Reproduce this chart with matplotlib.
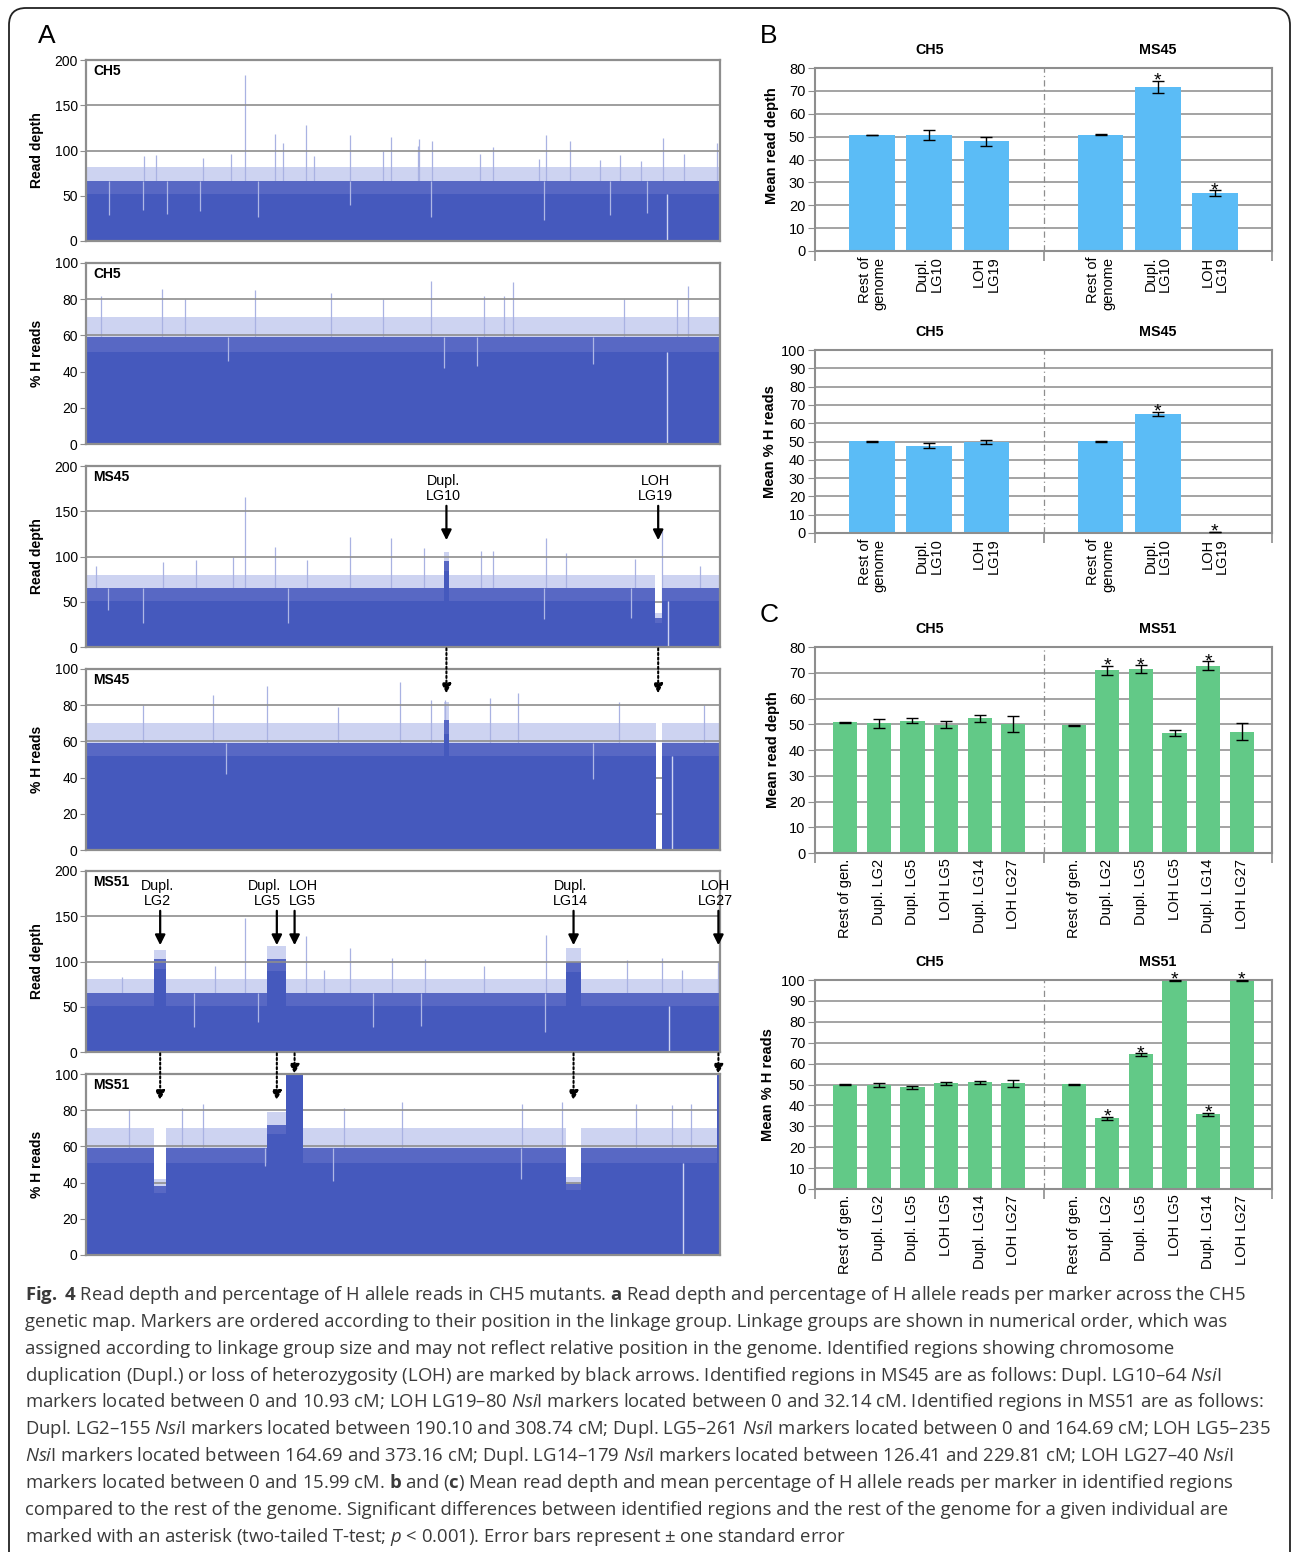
import numpy as np
import matplotlib
matplotlib.use("Agg")
import matplotlib.pyplot as plt
from matplotlib.patches import FancyBboxPatch, ConnectionPatch

# =====================================================================
# DATA - panel A (x = position along the genetic map, fraction 0..1)
# each profile: stretch edges, solid body level (core), dense band (mid),
# upper envelope (top); plus single tall / low markers
# =====================================================================
ch5_depth_edges = [0.0, 1.0]
ch5_depth_core = [52]
ch5_depth_mid = [66]
ch5_depth_top = [82]
ch5_depth_spike_x = [0.251, 0.298, 0.311, 0.347, 0.416, 0.481, 0.525, 0.546, 0.642, 0.726, 0.763, 0.910, 0.995,
                     0.092, 0.111, 0.184, 0.229, 0.360, 0.468, 0.523, 0.621, 0.714, 0.810, 0.843, 0.876, 0.944]
ch5_depth_spike_y = [183, 118, 108, 128, 117, 115, 113, 110, 104, 117, 111, 114, 108,
                     93.6, 95.4, 91.7, 96.5, 93.6, 99, 104.6, 96.5, 91, 90, 95.4, 88, 96]
ch5_depth_dip_x = [0.036, 0.090, 0.127, 0.180, 0.272, 0.416, 0.544, 0.723, 0.826, 0.885]
ch5_depth_dip_y = [29, 34, 30, 33, 27, 40, 26, 23, 29, 31]
ch5_depth_gap_x = [0.917]
ch5_depth_gap_y = [52]

ch5_h_edges = [0.0, 1.0]
ch5_h_core = [51]
ch5_h_mid = [59]
ch5_h_top = [70]
ch5_h_spike_x = [0.544, 0.674, 0.950, 0.120, 0.267, 0.386, 0.024, 0.628, 0.659, 0.932, 0.469, 0.848, 0.156]
ch5_h_spike_y = [89.9, 89.4, 87.5, 85.7, 85.2, 83.3, 81.7, 81.7, 81.7, 79.9, 79.9, 79.9, 79.9]
ch5_h_dip_x = [0.224, 0.565, 0.616, 0.800]
ch5_h_dip_y = [45.8, 41.8, 43, 44]
ch5_h_gap_x = [0.917]
ch5_h_gap_y = [51]

ms45_depth_edges = [0.0, 0.564, 0.573, 0.897, 0.908, 1.0]
ms45_depth_core = [51, 84, 51, 27, 51]
ms45_depth_mid = [65, 95, 65, 32, 65]
ms45_depth_top = [80, 105, 80, 38, 80]
ms45_depth_spike_x = [0.251, 0.298, 0.417, 0.481, 0.533, 0.642, 0.726, 0.908, 0.757,
                      0.016, 0.121, 0.173, 0.232, 0.348, 0.623, 0.866, 0.969]
ms45_depth_spike_y = [166, 110, 121, 120, 109, 106, 120, 128, 104,
                      89, 94, 96, 99, 96, 106, 97.6, 90]
ms45_depth_dip_x = [0.035, 0.090, 0.318, 0.723, 0.859]
ms45_depth_dip_y = [41, 27, 27, 31, 32.5]
ms45_depth_gap_x = [0.918]
ms45_depth_gap_y = [51]

ms45_h_edges = [0.0, 0.564, 0.573, 0.899, 0.908, 1.0]
ms45_h_core = [52, 64, 52, 0, 52]
ms45_h_mid = [59, 72, 59, 0, 59]
ms45_h_top = [70, 82, 70, 0, 70]
ms45_h_spike_x = [0.286, 0.496, 0.201, 0.682, 0.638, 0.975, 0.090, 0.397, 0.840, 0.544, 0.567]
ms45_h_spike_y = [90.5, 93, 85.7, 87, 84, 80, 80, 79, 82, 83, 83]
ms45_h_dip_x = [0.221, 0.800]
ms45_h_dip_y = [42, 39.4]
ms45_h_gap_x = [0.925]
ms45_h_gap_y = [52]

ms51_depth_edges = [0.0, 0.108, 0.126, 0.286, 0.316, 0.757, 0.781, 1.0]
ms51_depth_core = [51, 92, 51, 90, 51, 88, 51]
ms51_depth_mid = [65, 103, 65, 103, 65, 100, 65]
ms51_depth_top = [81, 113, 81, 117, 81, 115, 81]
ms51_depth_spike_x = [0.251, 0.726, 0.347, 0.417, 0.909, 0.534, 0.997,
                      0.056, 0.203, 0.375, 0.482, 0.628, 0.854, 0.940]
ms51_depth_spike_y = [148, 129, 128, 115, 104, 103, 100,
                      83, 95, 91, 104, 94.5, 102, 91]
ms51_depth_dip_x = [0.170, 0.271, 0.453, 0.528, 0.724]
ms51_depth_dip_y = [27.6, 33, 28, 29, 21.7]
ms51_depth_gap_x = [0.919]
ms51_depth_gap_y = [51]

ms51_h_edges = [0.0, 0.108, 0.126, 0.286, 0.316, 0.342, 0.757, 0.781, 0.995, 1.0]
ms51_h_core = [51, 34, 51, 67, 100, 51, 36, 51, 100]
ms51_h_mid = [59, 38, 59, 72, 100, 59, 39, 59, 100]
ms51_h_top = [70, 42, 70, 79, 100, 70, 43, 70, 100]
ms51_h_spike_x = [0.184, 0.751, 0.687, 0.498, 0.955, 0.867, 0.152, 0.068, 0.407, 0.925]
ms51_h_spike_y = [83.7, 84.6, 83.7, 84.3, 83.2, 83.2, 81, 80.4, 81, 82.8]
ms51_h_dip_x = [0.282, 0.389, 0.686]
ms51_h_dip_y = [49, 41, 42]
ms51_h_gap_x = [0.942]
ms51_h_gap_y = [51]

# identified regions: label, start, end, text alignment
ms45_regions = [("Dupl.\nLG10", 0.564, 0.573, "center"),
                ("LOH\nLG19", 0.897, 0.908, "center")]
ms51_regions = [("Dupl.\nLG2", 0.108, 0.126, "center"),
                ("Dupl.\nLG5", 0.286, 0.316, "right"),
                ("LOH\nLG5", 0.316, 0.342, "left"),
                ("Dupl.\nLG14", 0.757, 0.781, "center"),
                ("LOH\nLG27", 0.995, 1.0, "center")]
ms51_h_region_at_top = [False, False, True, False, True]

# =====================================================================
# DATA - panels B and C (means, standard errors, significance)
# =====================================================================
b_labels = ["Rest of\ngenome", "Dupl.\nLG10", "LOH\nLG19"]
b_depth_ch5 = [50.7, 50.7, 48.0]
b_depth_ch5_se = [0.2, 2.3, 1.9]
b_depth_ms45 = [50.8, 71.7, 25.3]
b_depth_ms45_se = [0.2, 2.8, 1.2]
b_depth_star = [False, False, False, False, True, True]
b_h_ch5 = [50.2, 47.6, 49.8]
b_h_ch5_se = [0.2, 1.4, 1.1]
b_h_ms45 = [50.2, 65.0, 0.4]
b_h_ms45_se = [0.2, 1.1, 0.1]
b_h_star = [False, False, False, False, True, True]

c_labels = ["Rest of gen.", "Dupl. LG2", "Dupl. LG5", "LOH LG5", "Dupl. LG14", "LOH LG27"]
c_depth_ch5 = [50.7, 50.3, 51.4, 49.9, 52.3, 50.2]
c_depth_ch5_se = [0.2, 1.7, 1.1, 1.3, 1.35, 3.15]
c_depth_ms51 = [49.6, 70.9, 71.4, 46.6, 72.7, 47.1]
c_depth_ms51_se = [0.2, 1.85, 1.5, 1.0, 1.7, 3.2]
c_depth_star = [False] * 6 + [False, True, True, False, True, False]
c_h_ch5 = [50.0, 49.8, 48.7, 50.6, 51.0, 50.5]
c_h_ch5_se = [0.1, 1.0, 0.7, 0.8, 0.8, 1.5]
c_h_ms51 = [50.2, 33.9, 64.4, 99.8, 35.8, 99.8]
c_h_ms51_se = [0.2, 0.7, 0.6, 0.2, 0.8, 0.2]
c_h_star = [False] * 6 + [False, True, True, True, True, True]

caption = [
    r"$\mathbf{Fig.}$ $\mathbf{4}$ Read depth and percentage of H allele reads in CH5 mutants. $\mathbf{a}$ Read depth and percentage of H allele reads per marker across the CH5",
    "genetic map. Markers are ordered according to their position in the linkage group. Linkage groups are shown in numerical order, which was",
    "assigned according to linkage group size and may not reflect relative position in the genome. Identified regions showing chromosome",
    r"duplication (Dupl.) or loss of heterozygosity (LOH) are marked by black arrows. Identified regions in MS45 are as follows: Dupl. LG10–64 $\mathit{Nsi}$I",
    r"markers located between 0 and 10.93 cM; LOH LG19–80 $\mathit{Nsi}$I markers located between 0 and 32.14 cM. Identified regions in MS51 are as follows:",
    r"Dupl. LG2–155 $\mathit{Nsi}$I markers located between 190.10 and 308.74 cM; Dupl. LG5–261 $\mathit{Nsi}$I markers located between 0 and 164.69 cM; LOH LG5–235",
    r"$\mathit{Nsi}$I markers located between 164.69 and 373.16 cM; Dupl. LG14–179 $\mathit{Nsi}$I markers located between 126.41 and 229.81 cM; LOH LG27–40 $\mathit{Nsi}$I",
    r"markers located between 0 and 15.99 cM. $\mathbf{b}$ and ($\mathbf{c}$) Mean read depth and mean percentage of H allele reads per marker in identified regions",
    "compared to the rest of the genome. Significant differences between identified regions and the rest of the genome for a given individual are",
    r"marked with an asterisk (two-tailed T-test; $\mathit{p}$ < 0.001). Error bars represent ± one standard error",
]

# =====================================================================
# STYLE
# =====================================================================
CAP_FONT = 'Open Sans'
plt.rcParams['font.family'] = ['Liberation Sans', 'DejaVu Sans']
plt.rcParams['mathtext.fontset'] = 'custom'
plt.rcParams['mathtext.rm'] = CAP_FONT
plt.rcParams['mathtext.it'] = CAP_FONT + ':italic'
plt.rcParams['mathtext.bf'] = CAP_FONT + ':bold'

GRID = '#8e8e8e'
DARK = '#4559bd'
MID = '#5868c4'
LIGHT = '#cdd3f1'
SPIKE = '#a9b2e2'
DIP = '#aeb7e5'
BLUE_BAR = '#5bbcf6'
GREEN_BAR = '#62c987'

W, H = 1293, 1552
fig = plt.figure(figsize=(W / 100, H / 100), dpi=100)


def box(x0, y0, x1, y1):
    return fig.add_axes([x0 / W, 1 - y1 / H, (x1 - x0) / W, (y1 - y0) / H])


def trace_panel(ax, edges, core, mid, top, sx, sy, dx, dy, gx, gy, ymax, ystep, ylabel, name):
    e = np.asarray(edges, float)
    ax.fill_between(e, np.r_[top, top[-1]], step='post', color=LIGHT, lw=0, zorder=1)
    ax.vlines(sx, 0, sy, color=SPIKE, lw=0.9, zorder=1.05)
    ax.fill_between(e, np.r_[mid, mid[-1]], step='post', color=MID, lw=0, zorder=1.1)
    ax.fill_between(e, np.r_[core, core[-1]], step='post', color=DARK, lw=0, zorder=2)
    # markers with low values show as light streaks into the solid body
    seg = np.searchsorted(e, dx, side='right') - 1
    ax.vlines(dx, dy, np.asarray(mid, float)[seg], color=DIP, lw=0.9, zorder=2.05)
    ax.vlines(gx, 0, gy, color=LIGHT, lw=1, zorder=2.1)
    ax.set_xlim(0, 1)
    ax.set_ylim(0, ymax)
    ax.set_yticks(np.arange(0, ymax + 1, ystep))
    ax.set_xticks([])
    ax.set_axisbelow('line')
    ax.yaxis.grid(True, color=GRID, lw=1.2)
    for s in ax.spines.values():
        s.set_color(GRID)
        s.set_linewidth(1.6)
    ax.tick_params(axis='y', direction='out', length=4, color=GRID, labelsize=10, pad=2)
    ax.set_ylabel(ylabel, fontsize=10, fontweight='bold')
    ax.yaxis.set_label_coords((44 - 86) / 634, 0.5)
    ax.annotate(name, (0, 1), xycoords='axes fraction', xytext=(5, -8),
                textcoords='offset points', fontsize=10, fontweight='bold',
                ha='left', va='center')


# ---------------- Panel A ----------------
ax1 = box(86, 60, 720, 241)
ax2 = box(86, 263, 720, 444)
ax3 = box(86, 466, 720, 647)
ax4 = box(86, 669, 720, 850)
ax5 = box(86, 871, 720, 1052)
ax6 = box(86, 1074, 720, 1255)

trace_panel(ax1, ch5_depth_edges, ch5_depth_core, ch5_depth_mid, ch5_depth_top,
            ch5_depth_spike_x, ch5_depth_spike_y, ch5_depth_dip_x, ch5_depth_dip_y,
            ch5_depth_gap_x, ch5_depth_gap_y, 200, 50, 'Read depth', 'CH5')
trace_panel(ax2, ch5_h_edges, ch5_h_core, ch5_h_mid, ch5_h_top,
            ch5_h_spike_x, ch5_h_spike_y, ch5_h_dip_x, ch5_h_dip_y,
            ch5_h_gap_x, ch5_h_gap_y, 100, 20, '% H reads', 'CH5')
trace_panel(ax3, ms45_depth_edges, ms45_depth_core, ms45_depth_mid, ms45_depth_top,
            ms45_depth_spike_x, ms45_depth_spike_y, ms45_depth_dip_x, ms45_depth_dip_y,
            ms45_depth_gap_x, ms45_depth_gap_y, 200, 50, 'Read depth', 'MS45')
trace_panel(ax4, ms45_h_edges, ms45_h_core, ms45_h_mid, ms45_h_top,
            ms45_h_spike_x, ms45_h_spike_y, ms45_h_dip_x, ms45_h_dip_y,
            ms45_h_gap_x, ms45_h_gap_y, 100, 20, '% H reads', 'MS45')
trace_panel(ax5, ms51_depth_edges, ms51_depth_core, ms51_depth_mid, ms51_depth_top,
            ms51_depth_spike_x, ms51_depth_spike_y, ms51_depth_dip_x, ms51_depth_dip_y,
            ms51_depth_gap_x, ms51_depth_gap_y, 200, 50, 'Read depth', 'MS51')
trace_panel(ax6, ms51_h_edges, ms51_h_core, ms51_h_mid, ms51_h_top,
            ms51_h_spike_x, ms51_h_spike_y, ms51_h_dip_x, ms51_h_dip_y,
            ms51_h_gap_x, ms51_h_gap_y, 100, 20, '% H reads', 'MS51')


def mark_regions(ax_depth, ax_h, regions, h_tips):
    offs = {'center': -2, 'right': 3, 'left': -4}
    for (lab, x0, x1, al), tip in zip(regions, h_tips):
        x = (x0 + x1) / 2
        ax_depth.annotate(lab, (x, 175), xytext=(offs[al], 0), textcoords='offset points',
                          ha=al, va='center', multialignment=al, fontsize=10.3,
                          linespacing=1.1, annotation_clip=False)
        ax_depth.annotate('', xy=(x, 118), xytext=(x, 156),
                          arrowprops=dict(arrowstyle='-|>', color='black', lw=1.6,
                                          mutation_scale=15, shrinkA=0, shrinkB=0),
                          annotation_clip=False)
        con = ConnectionPatch(xyA=(x, 0), coordsA=ax_depth.transData,
                              xyB=(x, tip), coordsB=ax_h.transData,
                              arrowstyle='-|>', linestyle=(0, (1, 1.2)), lw=1.5,
                              mutation_scale=14, color='black', shrinkA=1, shrinkB=0)
        fig.add_artist(con)


mark_regions(ax3, ax4, ms45_regions, [86.5, 86.5])
mark_regions(ax5, ax6, ms51_regions,
             [100 if t else 85.5 for t in ms51_h_region_at_top])


# ---------------- Panels B and C ----------------
def bar_panel(ax, names, labels, vals, errs, stars, color, ymax, ystep,
              ylabel, margin, width, ylab_x, ylab_y=0.5):
    n = len(labels)
    span = n - 1 + 2 * margin
    xs = [g * span + margin + i for g in range(2) for i in range(n)]
    ax.bar(xs, vals, width, color=color, zorder=2)
    ax.errorbar(xs, vals, yerr=errs, fmt='none', ecolor='black', elinewidth=1,
                capsize=4.5, capthick=1, zorder=3)
    for x, v, e, s in zip(xs, vals, errs, stars):
        if s:
            ax.annotate('*', (x, v + e), xytext=(0, -3.5), textcoords='offset points',
                        ha='center', va='baseline', fontsize=14, annotation_clip=False)
    ax.set_xlim(0, 2 * span)
    ax.set_ylim(0, ymax)
    ax.set_yticks(np.arange(0, ymax + 1, ystep))
    ax.set_axisbelow(True)
    ax.yaxis.grid(True, color='#9c9c9c', lw=1.3)
    ax.axvline(span, color=GRID, lw=0.9, ls=(0, (5, 2.5, 1, 2.5)), zorder=1)
    for s in ax.spines.values():
        s.set_color(GRID)
        s.set_linewidth(1.5)
    ax.set_xticks(xs)
    ax.set_xticklabels(labels * 2, rotation=90, ha='center', va='top',
                       multialignment='right', fontsize=10.5, linespacing=1.05)
    ax.set_xticks([0, span, 2 * span], minor=True)
    ax.tick_params(axis='x', which='major', length=0, pad=4)
    ax.tick_params(axis='x', which='minor', length=7, color=GRID, width=1.2)
    ax.tick_params(axis='y', direction='out', length=5, color=GRID, labelsize=10.5, pad=2)
    ax.set_ylabel(ylabel, fontsize=10.5, fontweight='bold')
    ax.yaxis.set_label_coords(ylab_x, ylab_y)
    for g, nm in enumerate(names):
        ax.annotate(nm, ((g + 0.5) * span, 1), xycoords=('data', 'axes fraction'),
                    xytext=(0, 13), textcoords='offset points', ha='center',
                    va='center', fontsize=10.3, fontweight='bold')


axb1 = box(815, 68, 1272, 251)
axb2 = box(815, 350, 1272, 533)
axc1 = box(815, 647, 1272, 853)
axc2 = box(815, 980, 1272, 1189)

bar_panel(axb1, ['CH5', 'MS45'], b_labels, b_depth_ch5 + b_depth_ms45,
          b_depth_ch5_se + b_depth_ms45_se, b_depth_star, BLUE_BAR, 80, 10,
          'Mean read depth', 1.0, 0.8, (779 - 815) / 457, (251 - 146) / 183)
bar_panel(axb2, ['CH5', 'MS45'], b_labels, b_h_ch5 + b_h_ms45,
          b_h_ch5_se + b_h_ms45_se, b_h_star, BLUE_BAR, 100, 10,
          'Mean % H reads', 1.0, 0.8, (777 - 815) / 457)
bar_panel(axc1, ['CH5', 'MS51'], c_labels, c_depth_ch5 + c_depth_ms51,
          c_depth_ch5_se + c_depth_ms51_se, c_depth_star, GREEN_BAR, 80, 10,
          'Mean read depth', 0.9, 0.72, (780 - 815) / 457)
bar_panel(axc2, ['CH5', 'MS51'], c_labels, c_h_ch5 + c_h_ms51,
          c_h_ch5_se + c_h_ms51_se, c_h_star, GREEN_BAR, 100, 10,
          'Mean % H reads', 0.9, 0.72, (775 - 815) / 457)

# panel letters
for lab, x, y in (('A', 47, 36), ('B', 769, 36), ('C', 769, 615)):
    fig.text(x / W, 1 - y / H, lab, fontsize=19, ha='center', va='center')

# caption
for i, line in enumerate(caption):
    fig.text(25 / W, 1 - (1300 + i * 26.85) / H, line, fontsize=13.3,
             family=CAP_FONT, color='#3a3a3a', ha='left', va='baseline')

# outer frame with rounded corners
frame = FancyBboxPatch((0.09, -0.5), 12.81, 15.94, boxstyle='round,pad=0,rounding_size=0.17',
                       transform=fig.dpi_scale_trans, fill=False, ec='#222222', lw=1.3)
fig.add_artist(frame)

fig.savefig('out.png', dpi=100)
